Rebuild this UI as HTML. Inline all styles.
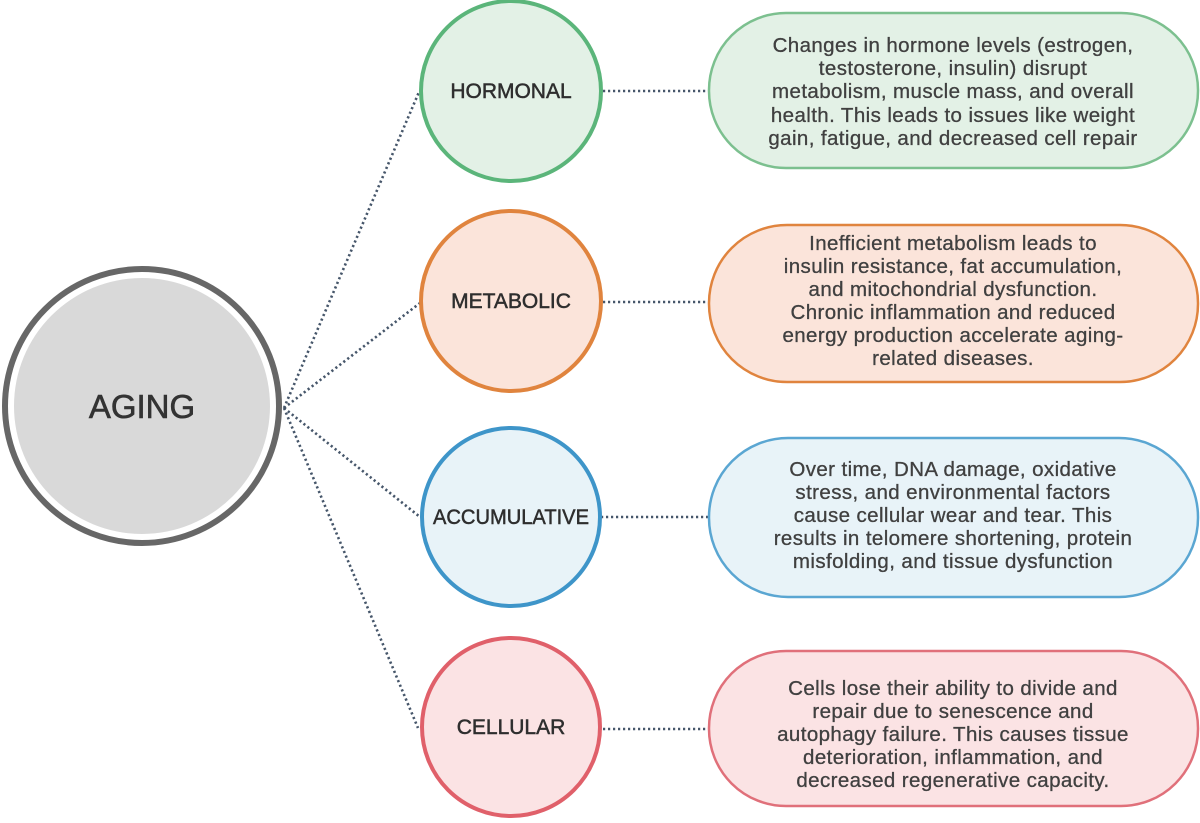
<!DOCTYPE html>
<html><head><meta charset="utf-8"><style>
html,body{margin:0;padding:0;background:#fff;}
svg{display:block;}
text{font-family:"Liberation Sans",sans-serif;fill:#3a3a3a;}
.t{font-size:20.5px;letter-spacing:0.4px;text-anchor:middle;fill:#404040;stroke:#404040;stroke-width:0.3;}
.h{font-size:21px;text-anchor:middle;fill:#2e2e2e;stroke:#2e2e2e;stroke-width:0.5;}
</style></head><body>
<svg width="1200" height="823" viewBox="0 0 1200 823" xmlns="http://www.w3.org/2000/svg">
<g stroke="#46566a" stroke-width="2.6" stroke-dasharray="2.2 2.8" fill="none">
<line x1="284" y1="408" x2="419" y2="92"/>
<line x1="284" y1="408" x2="420" y2="303"/>
<line x1="284" y1="408" x2="420" y2="517"/>
<line x1="284" y1="408" x2="418" y2="728"/>
<line x1="603" y1="91" x2="708" y2="91"/>
<line x1="603" y1="302" x2="708" y2="302"/>
<line x1="601" y1="517" x2="708" y2="517"/>
<line x1="603" y1="729" x2="708" y2="729"/>
</g>
<circle cx="142" cy="406" r="137" fill="#fff" stroke="#676767" stroke-width="6"/>
<circle cx="142" cy="406" r="128" fill="#d9d9d9"/>
<text x="142" y="418" style="font-size:33px;text-anchor:middle;fill:#333;stroke:#333;stroke-width:0.6">AGING</text>

<circle cx="511" cy="91" r="90" fill="#e3f1e6" stroke="#5bb57a" stroke-width="4"/>
<text class="h" x="511" y="98">HORMONAL</text>
<circle cx="511" cy="301" r="90" fill="#fbe4da" stroke="#e0843e" stroke-width="4"/>
<text class="h" x="511" y="308">METABOLIC</text>
<circle cx="511" cy="517" r="89" fill="#e8f3f8" stroke="#3e95c9" stroke-width="4"/>
<text class="h" x="511" y="524" textLength="156" lengthAdjust="spacingAndGlyphs">ACCUMULATIVE</text>
<circle cx="511" cy="727" r="89" fill="#fbe3e4" stroke="#e0606a" stroke-width="4"/>
<text class="h" x="511" y="734">CELLULAR</text>

<rect x="709" y="13" width="489" height="155" rx="77" fill="#e3f1e6" stroke="#7cc08f" stroke-width="2.5"/>
<rect x="709" y="225" width="489" height="157" rx="78" fill="#fbe4da" stroke="#e0843e" stroke-width="2.5"/>
<rect x="709" y="438" width="489" height="159" rx="79" fill="#e8f3f8" stroke="#5aa6d2" stroke-width="2.5"/>
<rect x="709" y="651" width="489" height="155" rx="77" fill="#fbe3e4" stroke="#e0707a" stroke-width="2.5"/>

<text class="t" x="953" y="52">Changes in hormone levels (estrogen,</text>
<text class="t" x="953" y="75">testosterone, insulin) disrupt</text>
<text class="t" x="953" y="98">metabolism, muscle mass, and overall</text>
<text class="t" x="953" y="122">health. This leads to issues like weight</text>
<text class="t" x="953" y="145">gain, fatigue, and decreased cell repair</text>

<text class="t" x="953" y="250">Inefficient metabolism leads to</text>
<text class="t" x="953" y="273">insulin resistance, fat accumulation,</text>
<text class="t" x="953" y="296">and mitochondrial dysfunction.</text>
<text class="t" x="953" y="319">Chronic inflammation and reduced</text>
<text class="t" x="953" y="342">energy production accelerate aging-</text>
<text class="t" x="953" y="365">related diseases.</text>

<text class="t" x="953" y="476">Over time, DNA damage, oxidative</text>
<text class="t" x="953" y="499">stress, and environmental factors</text>
<text class="t" x="953" y="522">cause cellular wear and tear. This</text>
<text class="t" x="953" y="545">results in telomere shortening, protein</text>
<text class="t" x="953" y="568">misfolding, and tissue dysfunction</text>

<text class="t" x="953" y="695">Cells lose their ability to divide and</text>
<text class="t" x="953" y="718">repair due to senescence and</text>
<text class="t" x="953" y="741">autophagy failure. This causes tissue</text>
<text class="t" x="953" y="764">deterioration, inflammation, and</text>
<text class="t" x="953" y="787">decreased regenerative capacity.</text>
</svg>
</body></html>
